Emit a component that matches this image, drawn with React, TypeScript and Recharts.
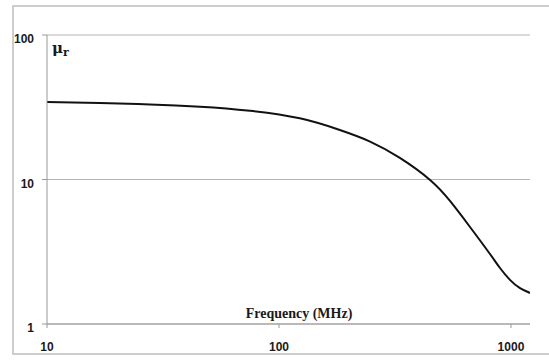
import React from "react";
import { LineChart, Line, XAxis, YAxis, CartesianGrid } from "recharts";

const frequencies = [10, 16.9, 27.8, 45.7, 75.0, 123, 183, 247, 332, 448, 546, 666, 812, 897, 990, 1094, 1208];
const permeability = [34.4, 33.8, 33.1, 31.9, 29.9, 26.5, 22.0, 18.3, 14.1, 9.92, 7.1, 4.69, 3.05, 2.44, 2.02, 1.77, 1.64];
const xTicks = [10, 100, 1000];
const yTicks = [1, 10, 100];

const data = frequencies.map((f, i) => ({ f, mu: permeability[i] }));

const tickFont = "'Liberation Sans', Arial, sans-serif";

const XTick = (props: any) => {
  const { x, y, payload } = props;
  return (
    <text x={x} y={y + 8} textAnchor="middle" fontFamily={tickFont} fontWeight="bold" fontSize={12} fill="#1a1a1a">
      {payload.value}
    </text>
  );
};

const YTick = (props: any) => {
  const { x, y, payload } = props;
  return (
    <text x={x} y={y + 8} textAnchor="end" fontFamily={tickFont} fontWeight="bold" fontSize={12} fill="#1a1a1a">
      {payload.value}
    </text>
  );
};

export default function App() {
  return (
    <div style={{ position: "absolute", left: 0, top: 0, width: 549, height: 360, background: "#fff" }}>
      <div
        style={{
          position: "absolute",
          left: 12,
          top: 5,
          width: 549 - 12,
          height: 355 - 5,
          borderLeft: "2px solid #cdcdcd",
          borderTop: "2px solid #cdcdcd",
          borderBottom: "2px solid #cdcdcd",
          boxSizing: "border-box",
        }}
      />
      <div style={{ position: "absolute", left: 0, top: 0 }}>
        <LineChart width={549} height={360} data={data} margin={{ top: 35, right: 19, bottom: 6, left: 0 }}>
          <CartesianGrid vertical={false} stroke="#b4b4b4" strokeWidth={1} />
          <XAxis
            dataKey="f"
            type="number"
            scale="log"
            domain={[10, 1208]}
            ticks={xTicks}
            allowDataOverflow
            stroke="#999"
            tickLine={{ stroke: "#999" }}
            tickSize={4}
            tickMargin={15}
            height={30}
            tick={<XTick />}
            interval={0}
          />
          <YAxis
            type="number"
            scale="log"
            domain={[1, 100]}
            ticks={yTicks}
            allowDataOverflow
            stroke="#999"
            tickLine={{ stroke: "#999" }}
            tickSize={5}
            tickMargin={8}
            width={47}
            tick={<YTick />}
            interval={0}
          />
          <Line
            dataKey="mu"
            type="natural"
            stroke="#111"
            strokeWidth={2}
            dot={false}
            isAnimationActive={false}
          />
        </LineChart>
      </div>
      <div
        style={{
          position: "absolute",
          left: 52,
          top: 38,
          fontFamily: "'DejaVu Serif', 'Liberation Serif', serif",
          fontWeight: "bold",
          fontSize: 15,
          color: "#1a1a1a",
          lineHeight: "20px",
          whiteSpace: "nowrap",
        }}
      >
        μ<span style={{ fontSize: 11, position: "relative", top: 3 }}>r</span>
      </div>
      <div
        style={{
          position: "absolute",
          left: 199,
          width: 200,
          top: 306,
          textAlign: "center",
          fontFamily: "'Liberation Serif', 'DejaVu Serif', serif",
          fontWeight: "bold",
          fontSize: 14,
          color: "#1a1a1a",
          lineHeight: "16px",
          whiteSpace: "nowrap",
        }}
      >
        Frequency (MHz)
      </div>
    </div>
  );
}
